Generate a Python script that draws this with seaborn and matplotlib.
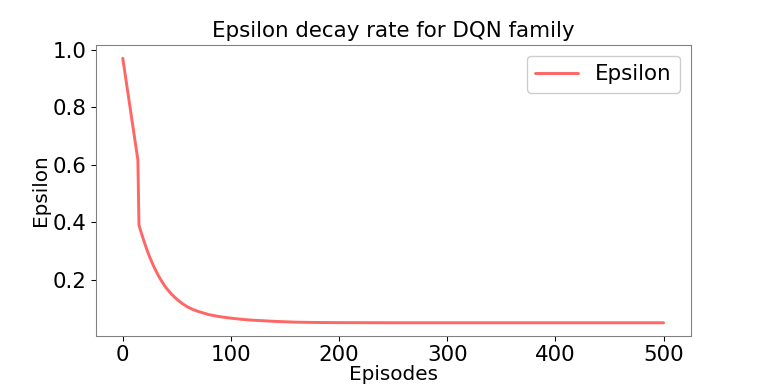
import matplotlib
matplotlib.use("Agg")
import matplotlib.pyplot as plt
import seaborn as sns
import pandas as pd

episodes = [0, 5, 10, 14, 15, 17, 20, 22, 25, 28, 30, 33, 35, 38, 40, 45, 50, 55,
            60, 65, 70, 80, 90, 100, 110, 120, 140, 160, 180, 200, 250, 300, 400, 500]
epsilon = [0.971, 0.845, 0.718, 0.617, 0.390, 0.365, 0.330, 0.308, 0.278, 0.252,
           0.236, 0.214, 0.201, 0.183, 0.172, 0.150, 0.132, 0.117, 0.105, 0.096,
           0.089, 0.078, 0.071, 0.066, 0.062, 0.059, 0.055, 0.052, 0.051, 0.0505,
           0.050, 0.050, 0.050, 0.050]

sns.set_style("ticks")
plt.rcParams['font.family'] = ['DejaVu Sans']
plt.rcParams['text.color'] = 'black'
plt.rcParams['axes.labelcolor'] = 'black'
plt.rcParams['xtick.color'] = 'black'
plt.rcParams['ytick.color'] = 'black'

df = pd.DataFrame({"Episodes": episodes, "Epsilon": epsilon})

fig = plt.figure(figsize=(8, 4), dpi=96)
ax = fig.add_axes([0.1246, 0.125, 0.7747, 0.7578])
sns.lineplot(data=df, x="Episodes", y="Epsilon", ax=ax, color="#ff6666",
             linewidth=2.2, label="Epsilon")
ax.set_title("Epsilon decay rate for DQN family", fontsize=16, color="black")
ax.set_xlabel("Episodes", fontsize=15, labelpad=0)
ax.set_ylabel("Epsilon", fontsize=15, labelpad=2)
ax.tick_params(labelsize=16)
ax.set_xticks([0, 100, 200, 300, 400, 500])
ax.set_yticks([0.2, 0.4, 0.6, 0.8, 1.0])
for s in ax.spines.values():
    s.set_visible(True)
    s.set_color("#808080")
ax.legend(loc="upper right", fontsize=16, framealpha=1, edgecolor="#cccccc")
fig.savefig("out.png", dpi=96)
